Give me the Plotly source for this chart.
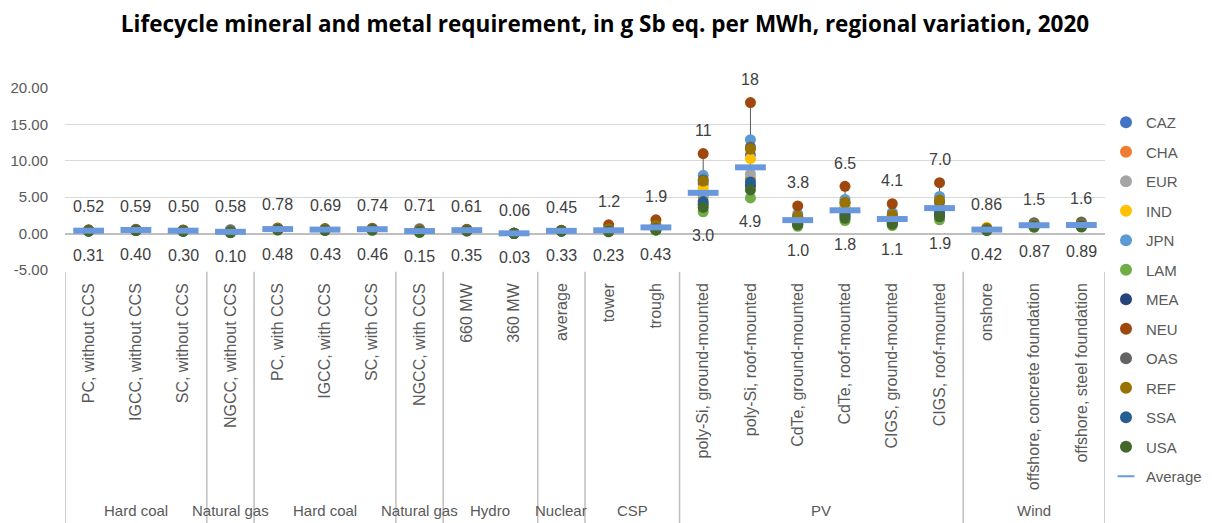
import plotly.graph_objects as go

categories = [
    "PC, without CCS", "IGCC, without CCS", "SC, without CCS", "NGCC, without CCS",
    "PC, with CCS", "IGCC, with CCS", "SC, with CCS", "NGCC, with CCS",
    "660 MW", "360 MW", "average", "tower", "trough",
    "poly-Si, ground-mounted", "poly-Si, roof-mounted", "CdTe, ground-mounted",
    "CdTe, roof-mounted", "CIGS, ground-mounted", "CIGS, roof-mounted",
    "onshore", "offshore, concrete foundation", "offshore, steel foundation",
]
groups = ["Hard coal", "Natural gas", "Hard coal", "Natural gas", "Hydro", "Nuclear", "CSP", "PV", "Wind"]
group_sizes = [3, 1, 3, 1, 2, 1, 2, 6, 3]

regions = ["CAZ", "CHA", "EUR", "IND", "JPN", "LAM", "MEA", "NEU", "OAS", "REF", "SSA", "USA"]
region_colors = ["#4472C4", "#ED7D31", "#A5A5A5", "#FFC000", "#5B9BD5", "#70AD47",
                 "#264478", "#9E480E", "#636363", "#997300", "#255E91", "#43682B"]

CAZ = [0.42, 0.50, 0.40, 0.30, 0.62, 0.55, 0.59, 0.38, 0.46, 0.04, 0.38, 0.45, 0.80, 6.8, 10.8, 2.0, 3.6, 2.2, 3.9, 0.55, 1.10, 1.12]
CHA = [0.46, 0.54, 0.44, 0.35, 0.68, 0.60, 0.65, 0.44, 0.52, 0.05, 0.41, 0.55, 0.95, 5.0, 7.6, 1.6, 2.8, 1.7, 3.0, 0.62, 1.25, 1.28]
EUR = [0.40, 0.48, 0.38, 0.28, 0.60, 0.53, 0.57, 0.36, 0.44, 0.04, 0.37, 0.42, 0.75, 5.4, 8.2, 1.7, 3.0, 1.9, 3.3, 0.52, 1.15, 1.18]
IND = [0.44, 0.52, 0.42, 0.33, 0.64, 0.57, 0.61, 0.41, 0.48, 0.05, 0.40, 0.50, 0.88, 6.2, 10.3, 2.1, 3.8, 2.3, 4.1, 0.86, 1.20, 1.22]
JPN = [0.45, 0.53, 0.43, 0.58, 0.66, 0.58, 0.63, 0.71, 0.50, 0.05, 0.40, 0.60, 1.05, 8.0, 12.9, 2.7, 4.7, 2.9, 5.1, 0.60, 1.22, 1.25]
LAM = [0.31, 0.40, 0.30, 0.10, 0.48, 0.43, 0.46, 0.15, 0.35, 0.03, 0.33, 0.23, 0.43, 3.0, 4.9, 1.0, 1.8, 1.1, 1.9, 0.42, 0.87, 0.89]
MEA = [0.36, 0.45, 0.35, 0.18, 0.55, 0.49, 0.52, 0.24, 0.40, 0.04, 0.35, 0.32, 0.58, 4.0, 6.6, 1.3, 2.4, 1.4, 2.6, 0.48, 0.98, 1.00]
NEU = [0.52, 0.59, 0.50, 0.42, 0.78, 0.69, 0.74, 0.55, 0.61, 0.06, 0.45, 1.2, 1.9, 11.0, 18.0, 3.8, 6.5, 4.1, 7.0, 0.70, 1.35, 1.40]
OAS = [0.43, 0.51, 0.41, 0.32, 0.63, 0.56, 0.60, 0.40, 0.47, 0.04, 0.39, 0.48, 0.85, 7.4, 11.9, 2.3, 4.2, 2.5, 4.4, 0.58, 1.50, 1.60]
REF = [0.47, 0.55, 0.45, 0.38, 0.70, 0.62, 0.67, 0.47, 0.54, 0.05, 0.42, 0.65, 1.15, 7.2, 11.6, 2.4, 4.3, 2.6, 4.6, 0.75, 1.30, 1.33]
SSA = [0.38, 0.47, 0.37, 0.22, 0.57, 0.51, 0.55, 0.29, 0.42, 0.04, 0.36, 0.36, 0.65, 4.4, 7.1, 1.4, 2.6, 1.5, 2.8, 0.50, 1.05, 1.08]
USA = [0.33, 0.42, 0.32, 0.14, 0.51, 0.46, 0.49, 0.19, 0.37, 0.03, 0.34, 0.28, 0.50, 3.6, 6.0, 1.2, 2.1, 1.3, 2.3, 0.45, 0.92, 0.94]
average = [0.40, 0.50, 0.40, 0.25, 0.62, 0.55, 0.60, 0.35, 0.47, 0.04, 0.38, 0.45, 0.85, 5.6, 9.1, 1.85, 3.2, 2.0, 3.5, 0.55, 1.15, 1.18]

y_ticks = [-5, 0, 5, 10, 15, 20]

series = [CAZ, CHA, EUR, IND, JPN, LAM, MEA, NEU, OAS, REF, SSA, USA]
cat_min = [min(s[i] for s in series) for i in range(len(categories))]
cat_max = [max(s[i] for s in series) for i in range(len(categories))]


def fmt(v):
    if v < 1:
        return f"{v:.2f}"
    if v < 10:
        return f"{v:.1f}"
    return f"{v:.0f}"


TXT = "#595959"
FONT = "Liberation Sans, Arial, sans-serif"

# figure is drawn inside the page body (8px default margin)
W, H = 1204, 515
ML, MR, MT, MB = 57, 107, 80, 253
plot_h = H - MT - MB

fig = go.Figure()

# high-low lines
hx, hy = [], []
for c, lo, hi in zip(categories, cat_min, cat_max):
    hx += [c, c, None]
    hy += [lo, hi, None]
fig.add_trace(go.Scatter(x=hx, y=hy, mode="lines", line=dict(color="#595959", width=1),
                         showlegend=False, hoverinfo="skip"))

for name, col, vals in zip(regions, region_colors, series):
    fig.add_trace(go.Scatter(x=categories, y=vals, mode="markers", name=name,
                             legendgroup=name,
                             marker=dict(color=col, size=11, line=dict(width=0))))

fig.add_trace(go.Scatter(x=categories, y=average, mode="markers", name="Average",
                         legendgroup="Average",
                         marker=dict(symbol="line-ew", size=22, color="#6A98DC",
                                     line=dict(color="#6A98DC", width=6))))

annotations = []
for c, lo, hi in zip(categories, cat_min, cat_max):
    annotations.append(dict(x=c, y=hi, text=fmt(hi), showarrow=False, yshift=23,
                            font=dict(family=FONT, size=16, color="#404040")))
    annotations.append(dict(x=c, y=lo, text=fmt(lo), showarrow=False, yshift=-24,
                            font=dict(family=FONT, size=16, color="#404040")))

# group labels and dividers
shapes = []
start = 0
bottom_paper = -(MB + 2) / plot_h
label_paper = -(511 - 270) / plot_h
shapes.append(dict(type="line", xref="x", yref="paper", x0=-0.5, x1=-0.5,
                   y0=-0.01, y1=bottom_paper, line=dict(color="#BFBFBF", width=1.5)))
for g, n in zip(groups, group_sizes):
    center = start + (n - 1) / 2
    annotations.append(dict(x=center, y=label_paper, xref="x", yref="paper", text=g,
                            yanchor="middle", showarrow=False,
                            font=dict(family=FONT, size=15, color=TXT)))
    end = start + n - 0.5
    shapes.append(dict(type="line", xref="x", yref="paper", x0=end, x1=end,
                       y0=-0.01, y1=bottom_paper, line=dict(color="#BFBFBF", width=1.5)))
    start += n

fig.update_layout(
    width=W, height=H,
    margin=dict(l=ML, r=MR, t=MT, b=MB, autoexpand=False),
    plot_bgcolor="white", paper_bgcolor="white",
    title=dict(text="<b>Lifecycle mineral and metal requirement, in g Sb eq. per MWh, regional variation, 2020</b>",
               x=(605 - 8) / W, xanchor="center", y=1 - 16 / H, yanchor="middle",
               font=dict(family="Open Sans, sans-serif", size=22.5, color="black")),
    xaxis=dict(type="category", categoryorder="array", categoryarray=categories,
               range=[-0.5, len(categories) - 0.5], automargin=False,
               tickangle=-90, tickfont=dict(family=FONT, size=16, color=TXT),
               showgrid=False, ticks="", showline=False, zeroline=False,
               ticklabelstandoff=9),
    yaxis=dict(range=[-5, 20], tickvals=y_ticks, ticktext=[f"{v:.2f}" for v in y_ticks],
               tickfont=dict(family=FONT, size=15, color=TXT), automargin=False,
               showgrid=True, gridcolor="#D9D9D9", gridwidth=1,
               zeroline=True, zerolinecolor="#BFBFBF", zerolinewidth=2,
               showline=False, ticks="", ticklabelstandoff=16),
    legend=dict(xref="container", yref="container", x=1098 / W, xanchor="left",
                y=1 - 98 / H, yanchor="top",
                font=dict(family=FONT, size=15, color=TXT),
                tracegroupgap=7, traceorder="grouped", itemwidth=30, maxheight=1,
                itemsizing="constant",
                bgcolor="rgba(0,0,0,0)"),
    shapes=shapes,
    annotations=annotations,
    showlegend=True,
)

fig.write_html("out.html")
